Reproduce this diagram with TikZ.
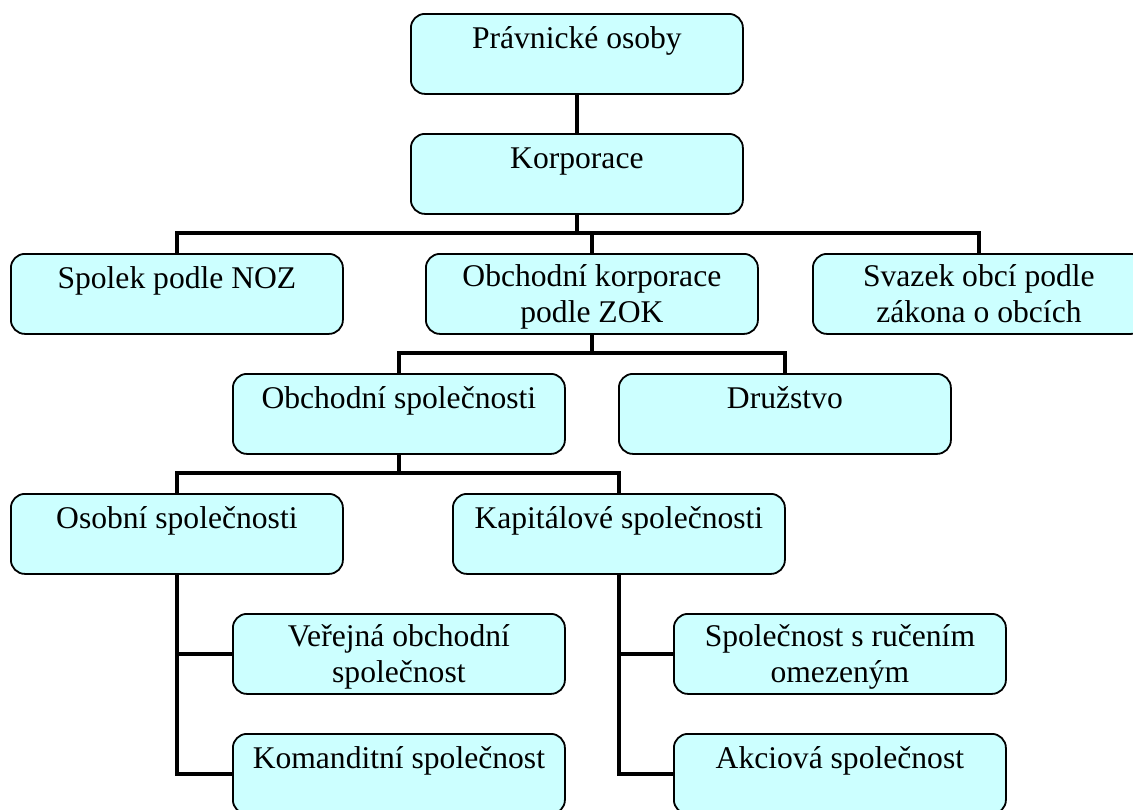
\documentclass[tikz,border=0pt]{standalone}
\usepackage{fontspec}
\setmainfont{Liberation Serif}
\definecolor{boxcyan}{HTML}{CCFFFF}
\newcommand\bxt[2]{\parbox[t][80pt][t]{330pt}{\centering\fontsize{31.6}{36}\selectfont\rule{0pt}{#1pt}#2}}
\begin{document}
\begin{tikzpicture}[x=1pt,y=-1pt,
  box/.style={draw=black, line width=1.8pt, fill=boxcyan, rounded corners=14pt,
    minimum width=332pt, minimum height=80pt, inner sep=0pt, anchor=north west},
  link/.style={draw=black, line width=3.2pt}]
\useasboundingbox (0,0) rectangle (1133,809);
\clip (0,0) rectangle (1133,809);
% boxes
\node[box] (p1) at (410,13) {\bxt{35}{Právnické osoby}};
\node[box] (k) at (410,133) {\bxt{35}{Korporace}};
\node[box] (spolek) at (10,253) {\bxt{35}{Spolek podle NOZ}};
\node[box] (okorp) at (425,253) {\bxt{33}{Obchodní korporace\\podle ZOK}};
\node[box] (svazek) at (812,253) {\bxt{33}{Svazek obcí podle\\zákona o obcích}};
\node[box] (ospol) at (232,373) {\bxt{35}{Obchodní společnosti}};
\node[box] (druz) at (618,373) {\bxt{35}{Družstvo}};
\node[box] (osob) at (10,493) {\bxt{35}{Osobní společnosti}};
\node[box] (kap) at (452,493) {\bxt{35}{Kapitálové společnosti}};
\node[box] (vos) at (232,613) {\bxt{33}{Veřejná obchodní\\společnost}};
\node[box] (kom) at (232,733) {\bxt{35}{Komanditní společnost}};
\node[box] (sro) at (673,613) {\bxt{33}{Společnost s ručením\\omezeným}};
\node[box] (as) at (673,733) {\bxt{35}{Akciová společnost}};
% connectors
\draw[link] (p1.south) -- (k.north);
\draw[link] (k.south) -- ++(0,20);
\draw[link] (spolek.north) -- ++(0,-20) -| (svazek.north);
\draw[link] (okorp.north) -- ++(0,-20);
\draw[link] (okorp.south) -- ++(0,20);
\draw[link] (ospol.north) -- ++(0,-20) -| (druz.north);
\draw[link] (ospol.south) -- ++(0,20);
\draw[link] (osob.north) -- ++(0,-20) -| (kap.north);
\draw[link] (osob.south) |- (kom.west);
\draw[link] (vos.west) -- (vos.west -| osob.south);
\draw[link] (kap.south) |- (as.west);
\draw[link] (sro.west) -- (sro.west -| kap.south);
\end{tikzpicture}
\end{document}
